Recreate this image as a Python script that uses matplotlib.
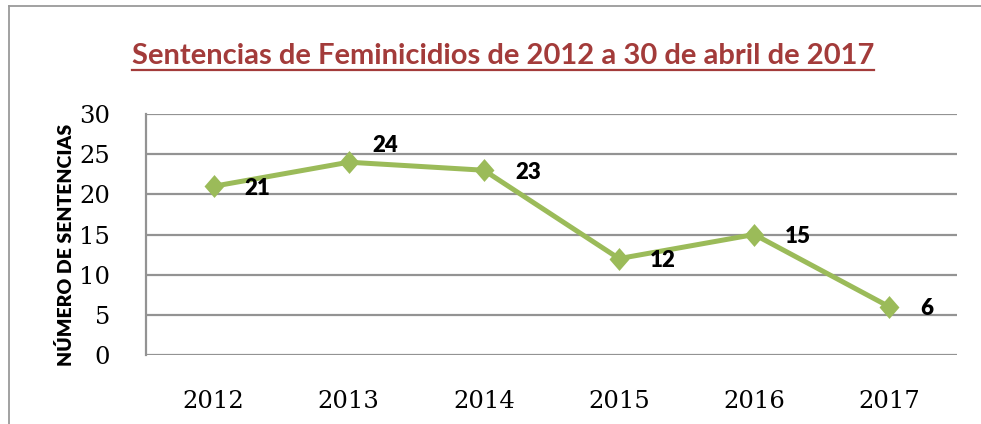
import matplotlib
matplotlib.use("Agg")
import matplotlib.pyplot as plt
from matplotlib.lines import Line2D

years = ["2012", "2013", "2014", "2015", "2016", "2017"]
sentencias = [21, 24, 23, 12, 15, 6]
y_ticks = [0, 5, 10, 15, 20, 25, 30]

titulo = "Sentencias de Feminicidios de 2012 a 30 de abril de 2017"
ylabel = "NÚMERO DE SENTENCIAS"

verde = "#9BBB59"
rojo = "#A33B3A"
gris = "#939393"

W, H = 981, 424
fig = plt.figure(figsize=(W / 100, H / 100), dpi=100)

# marco exterior: solo se ven el borde izquierdo y el superior
bx, by = 9 / W, 1 - 6 / H
fig.add_artist(Line2D([bx, 1.0], [by, by], transform=fig.transFigure, color="#9A9A9A", linewidth=1.3))
fig.add_artist(Line2D([bx, bx], [0, by], transform=fig.transFigure, color="#9A9A9A", linewidth=1.3))

ax = fig.add_axes([146 / W, (H - 355) / H, (957 - 146) / W, (355 - 114) / H])
x = list(range(len(years)))
diamante = [(0, 1.15), (1, 0), (0, -1.15), (-1, 0), (0, 1.15)]
ax.plot(x, sentencias, color=verde, linewidth=3.6, marker=diamante, markersize=16.5,
        markeredgewidth=0, markerfacecolor=verde, zorder=3)

ax.set_xlim(-0.5, len(years) - 0.5)
ax.set_ylim(0, 30)
ax.set_yticks(y_ticks)
ax.set_xticks(x)
ax.set_xticklabels(years)
ax.grid(axis="y", color=gris, linewidth=1.6)
ax.set_axisbelow(True)
for s in ["top", "right", "bottom"]:
    ax.spines[s].set_visible(False)
ax.spines["left"].set_color(gris)
ax.spines["left"].set_linewidth(1.6)
ax.tick_params(length=0, labelsize=17.5, pad=26)
ax.tick_params(axis="x", pad=25)
for t in ax.get_xticklabels() + ax.get_yticklabels():
    t.set_family("DejaVu Serif")

# etiquetas de datos
for i, v in enumerate(sentencias):
    dx, dy = (24, 17) if v == 24 else (31, -2)
    ax.annotate(str(v), (i, v), xytext=(dx, dy), textcoords="offset pixels",
                ha="left", va="center", fontsize=16, fontweight="heavy",
                family="Lato", color="black")

fig.text(66 / W, 1 - 245 / H, ylabel, rotation=90, ha="center", va="center",
         fontsize=14, fontweight="heavy", family="Lato")

t = fig.text(503 / W, 1 - 56 / H, titulo, ha="center", va="center",
             fontsize=21, fontweight="bold", family="Lato", color=rojo)

fig.canvas.draw()
bb = t.get_window_extent().transformed(fig.transFigure.inverted())
uy = 1 - 70 / H
fig.add_artist(Line2D([bb.x0, bb.x1], [uy, uy], transform=fig.transFigure,
                      color=rojo, linewidth=1.6))

fig.savefig("out.png", dpi=100)
